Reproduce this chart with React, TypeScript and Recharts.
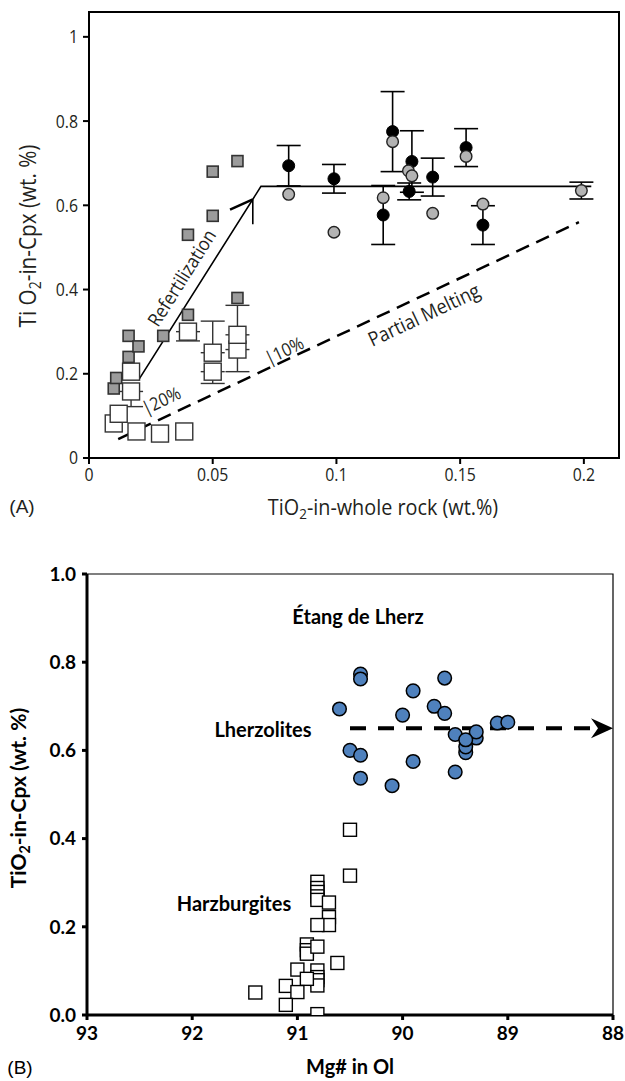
import React from "react";
import { ScatterChart, Scatter, XAxis, YAxis, ErrorBar, ReferenceArea } from "recharts";

// ---- Panel A: TiO2 whole rock vs TiO2 in Cpx ----
const A_X_TICKS = [0, 0.05, 0.1, 0.15, 0.2];
const A_Y_TICKS = [0, 0.2, 0.4, 0.6, 0.8, 1];
const A_X_MAX = 0.2142;
const A_Y_MAX = 1.059;

const GRAY_SQUARES = [
  { x: 0.01, y: 0.165 },
  { x: 0.011, y: 0.19 },
  { x: 0.016, y: 0.29 },
  { x: 0.016, y: 0.24 },
  { x: 0.02, y: 0.265 },
  { x: 0.03, y: 0.29 },
  { x: 0.04, y: 0.34 },
  { x: 0.04, y: 0.53 },
  { x: 0.05, y: 0.575 },
  { x: 0.05, y: 0.68 },
  { x: 0.06, y: 0.705 },
  { x: 0.06, y: 0.38 },
];

const WHITE_SQUARES = [
  { x: 0.01, y: 0.082 },
  { x: 0.012, y: 0.105 },
  { x: 0.017, y: 0.205 },
  { x: 0.017, y: 0.158, err: [0.036, 0] },
  { x: 0.0192, y: 0.063 },
  { x: 0.0287, y: 0.058 },
  { x: 0.0385, y: 0.063 },
  { x: 0.04, y: 0.3, err: [0.022, 0] },
  { x: 0.05, y: 0.25, err: [0, 0.075] },
  { x: 0.05, y: 0.205, err: [0.028, 0] },
  { x: 0.06, y: 0.2575, err: [0.0525, 0] },
  { x: 0.06, y: 0.2925, err: [0, 0.07] },
];

const BLACK_CIRCLES = [
  { x: 0.0807, y: 0.694, err: 0.048 },
  { x: 0.099, y: 0.663, err: 0.034 },
  { x: 0.1227, y: 0.775, err: 0.095 },
  { x: 0.1189, y: 0.577, err: 0.07 },
  { x: 0.1305, y: 0.704, err: 0.073 },
  { x: 0.1294, y: 0.633, err: 0.02 },
  { x: 0.1389, y: 0.667, err: 0.045 },
  { x: 0.1524, y: 0.737, err: 0.045 },
  { x: 0.1592, y: 0.553, err: 0.046 },
];

const GRAY_CIRCLES = [
  { x: 0.0807, y: 0.626 },
  { x: 0.099, y: 0.536 },
  { x: 0.1227, y: 0.751 },
  { x: 0.1189, y: 0.618 },
  { x: 0.1291, y: 0.682 },
  { x: 0.1305, y: 0.67 },
  { x: 0.1389, y: 0.581 },
  { x: 0.1524, y: 0.716 },
  { x: 0.1592, y: 0.603 },
  { x: 0.199, y: 0.635, err: 0.02 },
];

// refertilization trend: rise then plateau
const REFERT_LINE = [
  { x: 0.02, y: 0.185 },
  { x: 0.0695, y: 0.645 },
  { x: 0.203, y: 0.645 },
];
const REFERT_ARROW_LEFT = [
  { x: 0.057, y: 0.59 },
  { x: 0.0662, y: 0.614 },
];
const REFERT_ARROW_DOWN = [
  { x: 0.0662, y: 0.614 },
  { x: 0.0662, y: 0.555 },
];
const MELT_LINE = [
  { x: 0.0118, y: 0.045 },
  { x: 0.198, y: 0.56 },
];

// ---- Panel B: Mg# in olivine vs TiO2 in Cpx ----
const B_X_TICKS = [93, 92, 91, 90, 89, 88];
const B_Y_TICKS = [0, 0.2, 0.4, 0.6, 0.8, 1.0];

const LHERZOLITES = [
  { x: 90.6, y: 0.694 },
  { x: 90.4, y: 0.773 },
  { x: 90.4, y: 0.762 },
  { x: 90.5, y: 0.6 },
  { x: 90.4, y: 0.589 },
  { x: 90.4, y: 0.537 },
  { x: 90.1, y: 0.52 },
  { x: 90.0, y: 0.68 },
  { x: 89.9, y: 0.735 },
  { x: 89.9, y: 0.575 },
  { x: 89.7, y: 0.7 },
  { x: 89.6, y: 0.764 },
  { x: 89.6, y: 0.684 },
  { x: 89.5, y: 0.636 },
  { x: 89.5, y: 0.551 },
  { x: 89.4, y: 0.595 },
  { x: 89.4, y: 0.608 },
  { x: 89.3, y: 0.628 },
  { x: 89.3, y: 0.642 },
  { x: 89.4, y: 0.624 },
  { x: 89.1, y: 0.662 },
  { x: 89.0, y: 0.664 },
];

const HARZBURGITES = [
  { x: 90.5, y: 0.42 },
  { x: 90.5, y: 0.316 },
  { x: 90.81, y: 0.302 },
  { x: 90.81, y: 0.288 },
  { x: 90.81, y: 0.279 },
  { x: 90.81, y: 0.269 },
  { x: 90.81, y: 0.261 },
  { x: 90.7, y: 0.255 },
  { x: 90.7, y: 0.222 },
  { x: 90.7, y: 0.204 },
  { x: 90.81, y: 0.204 },
  { x: 90.91, y: 0.16 },
  { x: 90.91, y: 0.147 },
  { x: 90.91, y: 0.139 },
  { x: 90.81, y: 0.155 },
  { x: 90.62, y: 0.118 },
  { x: 91.0, y: 0.103 },
  { x: 90.81, y: 0.101 },
  { x: 90.81, y: 0.086 },
  { x: 90.81, y: 0.079 },
  { x: 90.81, y: 0.067 },
  { x: 90.91, y: 0.082 },
  { x: 91.11, y: 0.066 },
  { x: 91.0, y: 0.052 },
  { x: 91.4, y: 0.051 },
  { x: 91.11, y: 0.023 },
  { x: 90.81, y: 0.002 },
];

const TREND_B = [
  { x: 90.5, y: 0.65 },
  { x: 88.05, y: 0.65 },
];
const TREND_B_HEAD = [{ x: 88, y: 0.65 }];

const SANS = "'Open Sans', 'DejaVu Sans', sans-serif";
const BOLD = "Lato, 'Open Sans', sans-serif";
const SQUEEZE = 0.88;

const blank = () => <g />;

const square = (size: number, fill: string, stroke: string, sw: number) => (p: any) => (
  <rect x={p.cx - size / 2} y={p.cy - size / 2} width={size} height={size} fill={fill} stroke={stroke} strokeWidth={sw} />
);

const dot = (r: number, fill: string, stroke: string, sw: number) => (p: any) => (
  <circle cx={p.cx} cy={p.cy} r={r} fill={fill} stroke={stroke} strokeWidth={sw} />
);

const arrowHead = (p: any) => (
  <path
    d={`M${p.cx},${p.cy} L${p.cx - 22},${p.cy - 10} L${p.cx - 15},${p.cy} L${p.cx - 22},${p.cy + 10} Z`}
    fill="#000"
  />
);

// condensed tick text for panel A
const narrowTick = (anchor: string, dy: string) => (p: any) => (
  <g transform={`translate(${p.x},${p.y}) scale(${SQUEEZE},1)`}>
    <text x={0} y={0} dy={dy} textAnchor={anchor} fontSize={18} fontFamily={SANS} fill="#231f20">
      {p.payload.value}
    </text>
  </g>
);

const Label = ({ x, y, rot = 0, sx = 1, size, font, weight = 400, color = "#231f20", children }: any) => (
  <div
    style={{
      position: "absolute",
      left: x,
      top: y,
      transform: `translate(-50%, -50%) rotate(${rot}deg) scaleX(${sx})`,
      whiteSpace: "nowrap",
      fontSize: size,
      fontFamily: font,
      fontWeight: weight,
      color,
      lineHeight: 1,
    }}
  >
    {children}
  </div>
);

const Sub = ({ children }: any) => (
  <span style={{ fontSize: "0.68em", position: "relative", top: "0.3em" }}>{children}</span>
);

function PanelA() {
  return (
    <div style={{ position: "absolute", left: 0, top: 0 }}>
      <ScatterChart width={625} height={530} margin={{ top: 12, right: 6, bottom: 42, left: 49 }}>
        <XAxis
          type="number"
          dataKey="x"
          domain={[0, A_X_MAX]}
          ticks={A_X_TICKS}
          allowDataOverflow
          height={30}
          stroke="#000"
          strokeWidth={2}
          tickSize={6}
          tickMargin={4}
          tick={narrowTick("middle", "0.71em")}
        />
        <YAxis
          type="number"
          dataKey="y"
          domain={[0, A_Y_MAX]}
          ticks={A_Y_TICKS}
          allowDataOverflow
          width={40}
          stroke="#000"
          strokeWidth={2}
          tickSize={6}
          tickMargin={5}
          tick={narrowTick("end", "0.36em")}
        />
        <ReferenceArea x1={0} x2={A_X_MAX} y1={0} y2={A_Y_MAX} fill="none" stroke="#000" strokeWidth={2} />
        <Scatter data={MELT_LINE} shape={blank} line={{ stroke: "#000", strokeWidth: 2.5, strokeDasharray: "14 8" }} isAnimationActive={false} />
        <Scatter data={REFERT_LINE} shape={blank} line={{ stroke: "#000", strokeWidth: 1.6 }} isAnimationActive={false} />
        <Scatter data={REFERT_ARROW_LEFT} shape={blank} line={{ stroke: "#000", strokeWidth: 2.5 }} isAnimationActive={false} />
        <Scatter data={REFERT_ARROW_DOWN} shape={blank} line={{ stroke: "#000", strokeWidth: 1.6 }} isAnimationActive={false} />
        <Scatter data={WHITE_SQUARES} shape={square(17, "#fff", "#333", 1.4)} isAnimationActive={false}>
          <ErrorBar dataKey="err" direction="y" width={12} stroke="#333" strokeWidth={1.4} />
        </Scatter>
        <Scatter data={GRAY_SQUARES} shape={square(11, "#9c9c9c", "#333", 1.6)} isAnimationActive={false} />
        <Scatter data={BLACK_CIRCLES} shape={dot(6, "#000", "#000", 1)} isAnimationActive={false}>
          <ErrorBar dataKey="err" direction="y" width={12} stroke="#000" strokeWidth={1.6} />
        </Scatter>
        <Scatter data={GRAY_CIRCLES} shape={dot(5.8, "#b3b3b3", "#222", 1.4)} isAnimationActive={false}>
          <ErrorBar dataKey="err" direction="y" width={12} stroke="#000" strokeWidth={1.6} />
        </Scatter>
      </ScatterChart>
      <Label x={27} y={236} rot={-90} sx={0.9} size={23} font={SANS}>
        Ti O<Sub>2</Sub>-in-Cpx (wt. %)
      </Label>
      <Label x={383} y={506} sx={0.9} size={22} font={SANS}>
        TiO<Sub>2</Sub>-in-whole rock (wt.%)
      </Label>
      <Label x={22} y={506} size={19} font="'Liberation Sans', Arial, sans-serif">
        (A)
      </Label>
      <Label x={182} y={278} rot={-57.7} sx={0.9} size={19} font={SANS}>
        Refertilization
      </Label>
      <Label x={424} y={315} rot={-25.2} sx={0.9} size={20} font={SANS}>
        Partial Melting
      </Label>
      <Label x={161} y={400} rot={-25.2} sx={0.9} size={18} font={SANS}>
        |20%
      </Label>
      <Label x={284} y={350} rot={-25.2} sx={0.9} size={18} font={SANS}>
        |10%
      </Label>
    </div>
  );
}

function PanelB() {
  const tickStyle = { fontSize: 19, fontFamily: BOLD, fontWeight: 700, fill: "#000" };
  return (
    <div style={{ position: "absolute", left: 0, top: 530 }}>
      <ScatterChart width={625} height={551} margin={{ top: 44, right: 12, bottom: 31, left: 42 }}>
        <XAxis
          type="number"
          dataKey="x"
          domain={[88, 93]}
          reversed
          ticks={B_X_TICKS}
          allowDataOverflow
          height={35}
          stroke="#000"
          strokeWidth={3}
          tickSize={5}
          tickMargin={7}
          tick={tickStyle}
        />
        <YAxis
          type="number"
          dataKey="y"
          domain={[0, 1]}
          ticks={B_Y_TICKS}
          allowDataOverflow
          width={45}
          stroke="#000"
          strokeWidth={3}
          tickSize={5}
          tickMargin={6}
          tick={tickStyle}
          tickFormatter={(v: number) => v.toFixed(1)}
        />
        <ReferenceArea x1={93} x2={88} y1={0} y2={1} fill="none" stroke="#000" strokeWidth={1.2} />
        <Scatter data={HARZBURGITES} shape={square(13, "#fff", "#000", 1.4)} isAnimationActive={false} />
        <Scatter data={TREND_B} shape={blank} line={{ stroke: "#000", strokeWidth: 4, strokeDasharray: "16 12" }} isAnimationActive={false} />
        <Scatter data={TREND_B_HEAD} shape={arrowHead} isAnimationActive={false} />
        <Scatter data={LHERZOLITES} shape={dot(6.8, "#4f81bd", "#000", 1.5)} isAnimationActive={false} />
      </ScatterChart>
      <Label x={358} y={86} size={20} font={BOLD} weight={700} color="#000">
        Étang de Lherz
      </Label>
      <Label x={263} y={199} size={20} font={BOLD} weight={700} color="#000">
        Lherzolites
      </Label>
      <Label x={234} y={373} size={20} font={BOLD} weight={700} color="#000">
        Harzburgites
      </Label>
      <Label x={18} y={268} rot={-90} size={21} font={BOLD} weight={700} color="#000">
        TiO<Sub>2</Sub>-in-Cpx (wt. %)
      </Label>
      <Label x={350} y={536} size={20} font={BOLD} weight={700} color="#000">
        Mg# in Ol
      </Label>
      <Label x={20} y={537} size={19} font="'Liberation Sans', Arial, sans-serif" color="#000">
        (B)
      </Label>
    </div>
  );
}

export default function App() {
  return (
    <div style={{ position: "absolute", left: 0, top: 0, width: 625, height: 1081, background: "#fff", overflow: "hidden" }}>
      <PanelA />
      <PanelB />
    </div>
  );
}
